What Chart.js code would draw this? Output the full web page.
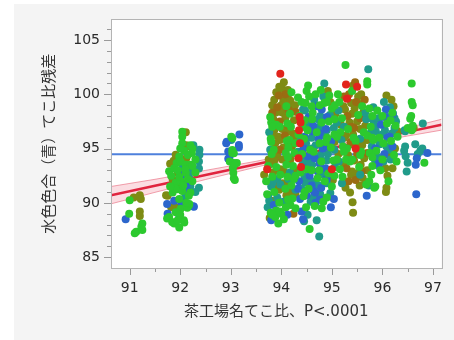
<!DOCTYPE html>
<html lang="ja">
<head>
<meta charset="UTF-8">
<title>てこ比プロット</title>
<script src="https://cdn.jsdelivr.net/npm/chart.js@4.4.1/dist/chart.umd.min.js"></script>
<style>
  html, body { margin: 0; padding: 0; background: #fff; }
  canvas { display: block; }
</style>
</head>
<body>
<canvas id="leverage" width="454" height="340"></canvas>
<script>
// axis ticks
const xMajor = [91, 92, 93, 94, 95, 96, 97];
const xMinor = [91.5, 92.5, 93.5, 94.5, 95.5, 96.5];
const yMajor = [85, 90, 95, 100, 105];
const yMinor = [86, 87, 88, 89, 91, 92, 93, 94, 96, 97, 98, 99, 101, 102, 103, 104, 106];

// mean line and fit with confidence band
const meanX = [90.63, 97.17];
const meanY = [94.48, 94.48];
const fitX = [90.63, 91.5, 92.5, 93.5, 94.5, 95.5, 96.5, 97.17];
const fitY = [90.71, 91.57, 92.57, 93.56, 94.55, 95.54, 96.54, 97.2];
const bandUp = [91.51, 92.17, 92.99, 93.83, 94.75, 95.78, 96.92, 97.7];
const bandLo = [89.91, 90.97, 92.15, 93.29, 94.35, 95.3, 96.16, 96.7];

// points, grouped by colour class
const redPts = [
  [93.72,93.1],[93.98,101.9],
  [94.36,97.9],[94.38,97.4],[94.35,96.7],[94.37,95.5],[94.34,94.1],[94.39,93.3],[95.0,93.1],
  [95.28,100.9],[95.3,99.6],[95.5,100.7],[95.47,95.0]
];
const brownPts = [
  [93.92,98.8],[94.08,100.0],[94.07,96.2],[94.24,89.0],[93.95,99.9],[93.97,97.5],[94.14,98.6],
  [93.82,98.3],[94.13,97.2],[93.97,94.9],[94.28,98.4],
  [95.34,100.0],[95.31,98.0],[95.37,95.6],[95.29,93.2],[95.33,92.0],[95.46,101.1],[95.48,99.3],
  [95.44,96.9],[95.5,94.5],[95.47,92.1],[95.65,99.5],[95.59,92.9],
  [95.24,99.8],[95.56,97.8],[95.39,97.0],[95.7,94.6]
];
const olivePts = [
  [91.08,90.5],[91.2,90.7],[91.22,90.35],[91.2,89.2],[91.2,88.8],
  [92.11,96.5],[92.13,95.2],[91.91,94.43],[91.87,93.88],[91.95,92.77],[91.85,92.16],[91.75,90.65],
  [92.07,90.26],[91.72,90.7],[92.12,95.3],[92.12,94.1],[91.92,89.6],[91.8,93.6],[92.0,91.6],[91.82,89.6],
  [93.66,92.6],[93.75,94.0],[93.77,88.6],[93.9,100.2],[93.86,99.5],[93.88,98.3],[93.84,97.7],
  [93.86,96.7],[93.94,96.1],[93.88,95.5],[93.92,94.4],[93.86,93.9],[93.84,92.8],[93.88,91.6],
  [94.05,101.1],[94.02,100.5],[94.04,99.4],[94.03,98.3],[94.08,97.8],[94.02,96.8],[94.04,95.1],
  [94.02,94.0],[94.05,92.9],[94.03,91.8],[94.1,90.7],[94.18,99.4],[94.22,98.8],[94.25,97.6],
  [94.23,96.4],[94.21,95.2],[94.18,94.0],[94.16,91.0],[94.0,99.0],
  [93.82,99.0],[93.96,98.4],[94.13,99.9],[94.27,99.0],[93.82,96.2],[93.97,95.8],[94.14,96.6],
  [94.28,96.0],[93.81,93.6],[93.98,93.1],[94.14,93.8],[94.28,93.0],[93.96,91.2],[94.13,91.6],
  [93.82,90.2],[94.28,90.8],[93.96,100.7],[94.13,100.4],
  [94.92,100.3],[94.97,99.3],[95.02,92.1],[95.05,95.6],[95.07,98.2],
  [95.18,97.2],[95.13,94.5],[95.23,98.9],[95.38,99.2],[95.26,98.6],[95.35,97.4],[95.28,96.2],
  [95.32,94.4],[95.38,92.6],[95.27,91.4],[95.36,90.95],[95.42,100.8],[95.52,99.8],[95.45,98.7],
  [95.5,97.5],[95.42,96.3],[95.53,95.1],[95.44,93.9],[95.49,92.7],[95.41,90.05],[95.42,89.1],
  [95.58,100.0],[95.62,98.3],[95.66,97.1],[95.6,95.3],[95.64,94.1],[95.57,93.5],[95.61,92.3],[95.67,91.9],
  [95.24,96.0],[95.24,93.5],[95.4,98.2],[95.4,95.4],[95.4,92.9],[95.56,96.8],[95.56,99.1],
  [95.55,91.6],[95.7,95.8],[95.7,93.0],
  [96.08,99.9],[96.12,94.4],[96.06,93.2],[96.1,92.5],[96.08,91.4],[96.07,91.0],[96.18,99.5],
  [96.22,98.9],[96.25,95.0],[96.3,96.6],[96.2,93.2],
  [96.62,96.9]
];
const greenPts = [
  [90.99,89.0],[91.0,90.25],[91.1,87.2],[91.13,87.35],[91.25,88.1],[91.25,87.5],[91.23,87.8],
  [92.04,96.54],[92.04,96.1],[92.04,95.5],[92.2,95.3],[92.24,95.0],[92.23,94.6],[91.98,94.27],
  [91.93,93.67],[92.01,93.82],[92.11,93.52],[92.2,93.52],[91.78,92.92],[91.88,93.2],[92.11,92.77],
  [91.91,91.86],[92.01,92.0],[92.24,92.0],[91.85,90.95],[91.95,91.26],[92.04,91.1],[92.2,90.95],
  [91.98,90.35],[92.17,90.65],[92.17,89.75],[92.01,89.45],[92.14,89.55],[91.91,89.14],[91.78,88.7],
  [91.88,88.1],[91.98,87.73],[92.07,88.4],[91.74,88.55],[91.84,88.23],[92.08,94.8],[91.98,92.4],
  [92.15,92.2],[92.06,91.6],[91.9,91.3],[92.18,89.9],[92.0,88.9],[92.08,88.2],[92.24,93.4],
  [91.82,92.5],[91.95,93.0],[92.1,93.1],[92.15,94.4],[92.0,95.0],[91.8,91.5],[92.12,90.0],
  [91.95,88.4],[92.3,92.8],[92.3,94.0],
  [93.01,96.09],[93.03,94.88],[93.06,94.58],[92.98,93.82],[93.06,93.67],[93.04,93.22],[93.05,92.77],
  [93.06,92.26],[93.12,93.67],[93.03,95.95],[93.03,94.6],[93.07,93.52],[93.08,92.1],
  [93.7,92.0],[93.8,95.6],[93.8,97.4],[93.78,97.9],[93.79,89.1],[93.72,90.8],[93.74,93.4],[93.79,95.9],
  [93.9,97.2],[93.85,94.9],[93.9,93.3],[93.86,91.0],[93.9,89.3],[93.88,88.7],[93.94,88.1],
  [94.1,98.9],[94.12,97.3],[94.11,95.7],[94.09,94.6],[94.1,93.5],[94.12,92.4],[94.08,91.3],
  [94.09,89.6],[94.0,89.0],[94.2,100.2],[94.17,98.2],[94.19,97.0],[94.16,95.8],[94.26,94.6],
  [94.23,93.4],[94.25,92.2],[94.2,91.6],[94.22,90.4],[94.18,89.8],
  [93.82,97.0],[93.97,97.0],[94.14,95.1],[94.28,95.5],[93.81,94.5],[93.98,92.6],[94.13,94.2],
  [94.28,92.5],[93.82,92.4],[93.96,90.0],[94.13,90.3],[94.28,89.5],[93.82,88.9],[94.05,88.5],[93.97,89.2],
  [94.4,99.3],[94.42,97.0],[94.41,94.5],[94.38,92.8],[94.44,90.6],[94.36,98.0],[94.53,100.8],
  [94.5,100.3],[94.55,99.8],[94.48,99.2],[94.52,96.7],[94.57,94.9],[94.5,93.1],[94.54,91.3],
  [94.49,89.6],[94.56,87.6],[94.68,100.0],[94.62,98.3],[94.7,96.5],[94.64,94.7],[94.72,92.3],
  [94.66,89.7],[94.78,100.4],[94.85,99.2],[94.8,97.4],[94.88,95.6],[94.79,93.8],[94.86,92.0],
  [94.83,90.1],[94.8,89.5],[94.95,99.9],[95.0,98.7],[94.94,97.5],[95.05,96.3],[94.98,95.1],
  [95.03,93.9],[94.93,92.7],[95.0,91.5],[95.06,99.0],
  [94.45,95.9],[94.6,98.9],[94.76,99.0],[94.9,99.3],[94.46,97.6],[94.61,97.7],[94.76,95.5],
  [94.91,96.0],[94.46,91.0],[94.6,93.0],[94.75,93.0],[94.9,90.5],[95.05,97.7],[95.05,92.5],
  [94.34,96.3],[94.33,99.7],
  [95.15,99.3],[95.2,97.8],[95.17,96.5],[95.22,95.2],[95.16,93.1],[95.21,92.4],[95.12,100.0],
  [95.27,102.7],[95.32,96.8],[95.3,95.0],[95.36,93.8],[95.28,94.0],[95.52,98.1],[95.47,95.7],
  [95.54,93.3],[95.43,96.0],[95.6,98.9],[95.63,96.5],[95.58,94.7],[95.68,91.7],[95.7,101.2],[95.7,100.9],
  [95.24,94.7],[95.4,94.0],[95.56,94.4],[95.1,94.0],[95.1,96.1],[95.4,100.3],[95.7,96.2],
  [95.74,98.7],[95.8,98.0],[95.77,97.0],[95.82,95.8],[95.75,94.6],[95.8,93.4],[95.78,92.6],
  [95.84,91.4],[95.74,92.0],[95.9,98.5],[95.94,96.0],[95.88,94.8],[95.96,93.0],[95.86,91.5],
  [96.09,97.3],[96.02,95.5],[96.12,92.0],[96.2,98.3],[96.26,97.1],[96.17,95.7],[96.23,94.4],[96.28,93.8],
  [95.8,96.0],[96.0,98.0],[96.16,97.6],[96.3,96.1],[96.0,94.0],[95.8,94.2],
  [96.5,96.9],[96.58,101.0],[96.58,99.3],[96.6,99.0],[96.57,98.0],[96.6,97.1],[96.58,96.7],
  [96.83,93.7],[96.55,97.75]
];
const tealPts = [
  [92.38,94.9],[92.38,94.43],[92.37,93.8],[92.37,93.16],[92.37,91.4],[92.17,92.46],[91.98,88.7],
  [92.26,95.3],[92.05,93.3],[92.2,91.5],[92.1,90.6],[92.3,91.0],[92.22,92.9],
  [93.01,95.8],[92.99,94.43],
  [93.78,94.9],[93.76,96.5],[93.74,90.7],[93.76,90.2],[93.73,89.6],[93.8,91.5],[93.92,92.2],
  [93.92,90.5],[94.04,90.1],[94.17,92.8],[93.82,91.8],[94.14,92.2],[93.98,91.7],[94.28,91.2],
  [94.43,98.6],[94.39,96.0],[94.42,93.5],[94.4,91.3],[94.45,88.3],[94.47,98.5],[94.58,97.3],
  [94.49,95.5],[94.55,93.7],[94.47,91.9],[94.58,90.1],[94.52,88.9],[94.65,99.5],[94.73,97.7],
  [94.68,95.3],[94.61,93.5],[94.69,91.7],[94.63,90.5],[94.7,88.4],[94.85,101.0],[94.83,99.8],
  [94.77,98.0],[94.86,96.2],[94.78,94.4],[94.84,92.6],[94.77,90.8],[94.75,86.9],[94.96,98.1],
  [95.04,96.9],[94.92,94.5],[95.06,93.3],[94.97,90.9],
  [94.46,97.0],[94.6,96.0],[94.75,97.0],[94.9,96.7],[94.46,94.0],[94.6,95.0],[94.75,94.1],
  [94.9,93.9],[94.46,92.4],[94.6,92.0],[94.75,91.6],[94.9,91.8],[95.05,94.9],[94.33,94.7],
  [95.13,98.5],[95.19,95.8],[95.14,93.8],[95.2,91.8],[95.68,97.7],[95.56,95.9],[95.72,102.3],[95.66,98.3],
  [95.24,97.0],[95.1,97.4],[95.56,92.6],
  [95.83,97.5],[95.76,96.4],[95.79,95.2],[95.85,94.0],[95.73,91.6],[95.92,97.8],[95.87,96.6],
  [95.95,95.4],[95.9,94.2],[95.98,97.9],[96.03,99.3],[96.11,97.9],[96.05,96.7],[96.13,94.9],
  [96.02,93.8],[96.24,97.8],[96.19,96.4],[96.27,97.5],[95.82,98.8],[96.15,98.8],
  [95.78,97.8],[95.86,97.1],[95.93,95.7],[96.0,96.3],[96.08,95.2],[96.16,94.0],[96.24,96.9],[95.92,93.4],
  [96.45,96.6],[96.45,95.2],[96.43,94.8],[96.46,94.3],[96.5,93.7],[96.48,92.9],[96.65,95.4],
  [96.7,94.5],[96.75,94.8],[96.79,95.0],[96.8,97.3],[96.44,96.7]
];
const bluePts = [
  [90.92,88.5],
  [92.27,89.65],[92.04,92.6],[92.14,91.86],[91.88,90.2],[92.14,91.14],[91.75,89.0],[91.74,89.9],
  [92.26,89.68],[92.02,90.0],
  [92.92,95.63],[93.17,96.3],[93.16,95.33],[93.16,95.09],[92.95,94.73],[92.95,94.07],[92.97,94.12],[92.91,95.5],
  [93.8,88.4],[93.85,89.8],[94.12,88.9],
  [94.44,95.0],[94.35,92.0],[94.37,90.35],[94.4,89.2],[94.43,88.5],[94.54,97.9],[94.46,96.1],
  [94.52,94.3],[94.56,92.5],[94.5,90.7],[94.71,98.9],[94.63,97.1],[94.74,95.9],[94.66,94.1],
  [94.72,92.9],[94.64,91.1],[94.68,90.0],[94.67,90.95],[94.8,98.6],[94.88,96.8],[94.82,95.0],
  [94.87,93.2],[94.79,91.4],[94.99,95.7],[95.04,90.35],[94.98,89.6],
  [94.6,96.6],[94.76,96.4],[94.91,95.2],[94.45,93.2],[94.6,94.4],[94.76,93.6],[94.9,92.2],
  [94.6,91.6],[94.76,90.3],[94.33,91.3],[94.9,97.9],
  [95.69,90.65],
  [95.97,97.2],[95.93,93.6],[96.07,98.6],[96.14,96.1],[96.04,94.5],[96.21,98.2],[96.05,97.9],
  [95.86,95.0],[96.1,96.0],[96.2,95.2],
  [96.68,94.1],[96.67,90.8],[96.89,94.6],[96.66,93.5]
];

const toXY = (xs, ys) => xs.map((x, i) => ({ x: x, y: ys[i] }));
const toPts = arr => arr.map(p => ({ x: p[0], y: p[1] }));

function dots(pts, color) {
  return {
    data: toPts(pts),
    backgroundColor: color,
    borderWidth: 0,
    pointRadius: 4,
    pointHoverRadius: 4,
    order: 0
  };
}

function line(data, color, width, extra) {
  return Object.assign({
    data: data,
    showLine: true,
    borderColor: color,
    borderWidth: width,
    pointRadius: 0,
    pointHoverRadius: 0,
    fill: false,
    order: 5
  }, extra || {});
}

// background, frame and tick marks
const decor = {
  id: 'decor',
  beforeDraw(chart) {
    const { ctx, chartArea: a } = chart;
    ctx.save();
    ctx.fillStyle = '#ffffff';
    ctx.fillRect(0, 0, chart.width, chart.height);
    ctx.fillStyle = '#f4f4f4';
    ctx.fillRect(14, 4, chart.width - 14, chart.height - 4);
    ctx.fillStyle = '#ffffff';
    ctx.fillRect(a.left, a.top, a.right - a.left, a.bottom - a.top);
    ctx.restore();
  },
  afterDraw(chart) {
    const { ctx, chartArea: a, scales } = chart;
    ctx.save();
    ctx.lineWidth = 1;
    ctx.strokeStyle = '#9a9a9a';
    ctx.beginPath();
    scales.x.ticks.forEach(t => {
      const px = Math.round(scales.x.getPixelForValue(t.value)) + 0.5;
      const len = xMajor.includes(t.value) ? 7 : 4;
      ctx.moveTo(px, a.bottom);
      ctx.lineTo(px, a.bottom + len);
    });
    scales.y.ticks.forEach(t => {
      const py = Math.round(scales.y.getPixelForValue(t.value)) + 0.5;
      const len = yMajor.includes(t.value) ? 7 : 4;
      ctx.moveTo(a.left - len, py);
      ctx.lineTo(a.left, py);
    });
    ctx.stroke();
    ctx.strokeStyle = '#b4b4b4';
    ctx.strokeRect(Math.round(a.left) + 0.5, Math.round(a.top) + 0.5,
      Math.round(a.right - a.left), Math.round(a.bottom - a.top));
    ctx.restore();
  }
};

const tickFont = { family: '"DejaVu Sans", sans-serif', size: 14 };
const titleFont = { family: '"DejaVu Sans", "Noto Sans CJK JP", sans-serif', size: 15 };

new Chart(document.getElementById('leverage'), {
  type: 'scatter',
  data: {
    datasets: [
      dots(redPts, '#e2241c'),
      dots(greenPts, '#2cc92e'),
      dots(bluePts, '#2c66cc'),
      dots(tealPts, '#209b8a'),
      dots(brownPts, '#9a6c12'),
      dots(olivePts, '#7e8b14'),
      line(toXY(meanX, meanY), '#4e80dc', 2),
      line(toXY(fitX, fitY), '#e0243e', 2.5),
      line(toXY(fitX, bandUp), 'rgba(232,100,120,0.6)', 1,
        { fill: '+1', backgroundColor: 'rgba(240,120,140,0.25)', order: 6 }),
      line(toXY(fitX, bandLo), 'rgba(232,100,120,0.6)', 1, { order: 6 })
    ]
  },
  options: {
    responsive: false,
    animation: false,
    devicePixelRatio: 1,
    layout: { padding: { top: 15, right: 6, left: 0, bottom: 0 } },
    plugins: {
      legend: { display: false },
      tooltip: { enabled: false }
    },
    scales: {
      x: {
        type: 'linear',
        min: 90.63,
        max: 97.17,
        afterBuildTicks: s => { s.ticks = xMajor.concat(xMinor).sort((a, b) => a - b).map(v => ({ value: v })); },
        afterFit: s => { s.height = 72; },
        grid: { display: false, drawTicks: false },
        border: { display: false },
        ticks: {
          autoSkip: false, maxRotation: 0, padding: 12, color: '#2a2a2a', font: tickFont,
          callback: v => xMajor.includes(v) ? String(v) : ''
        },
        title: {
          display: true, text: '茶工場名てこ比、P<.0001', color: '#333',
          font: titleFont, padding: { top: 0, bottom: 19 }
        }
      },
      y: {
        type: 'linear',
        min: 84.0,
        max: 106.9,
        afterBuildTicks: s => { s.ticks = yMajor.concat(yMinor).sort((a, b) => a - b).map(v => ({ value: v })); },
        afterFit: s => { s.width = 111; },
        grid: { display: false, drawTicks: false },
        border: { display: false },
        ticks: {
          autoSkip: false, padding: 11, color: '#2a2a2a', font: tickFont,
          callback: v => yMajor.includes(v) ? String(v) : ''
        },
        title: {
          display: true, text: '水色色合（青）てこ比残差', color: '#333',
          font: titleFont, padding: { top: 41, bottom: 0 }
        }
      }
    }
  },
  plugins: [decor]
});
</script>
</body>
</html>
